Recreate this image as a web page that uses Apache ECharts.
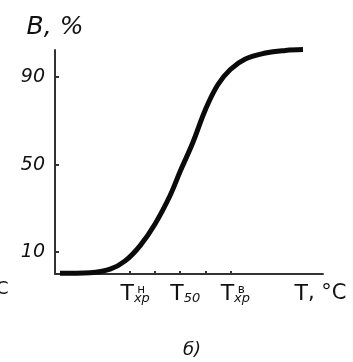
<!DOCTYPE html>
<html>
<head>
<meta charset="utf-8">
<script src="https://cdn.jsdelivr.net/npm/echarts@6/dist/echarts.min.js"></script>
<style>html,body{margin:0;padding:0;background:#fff}#c{width:353px;height:362px}</style>
</head>
<body>
<div id="c"></div>
<script>
// Data (temperature in arbitrary units, fibrous fraction B in %)
var temperature = [2, 14, 22, 28, 34, 40, 46, 50, 55, 60, 65, 70, 76, 84, 92, 99];
var fraction    = [0.3, 0.6, 2.2, 6, 13, 23, 36, 47, 60, 75, 86.5, 93.5, 98.3, 101, 102.2, 102.6];
var yTicks = [10, 50, 90];
var xTicks = [30, 40, 50, 60, 70];
var xLabelValues = [30, 50, 70, 104];
var xLabelTexts = ['{t|T}{s|хр}', '{t|T}{s|50}', '{t|T}{s|хр}', '{t|T}{c|, °C}'];
var xSupValues = [30, 70];
var xSupTexts = ['н', 'в'];

var FONT = 'DejaVu Sans';
var chart = echarts.init(document.getElementById('c'), null, {renderer: 'canvas'});
var lbl = {};
xLabelValues.forEach(function (v, i) { lbl[v] = xLabelTexts[i]; });
var sup = {};
xSupValues.forEach(function (v, i) { sup[v] = xSupTexts[i]; });

chart.setOption({
  backgroundColor: '#fff',
  animation: false,
  grid: {left: 55, right: 30, top: 50, bottom: 88, containLabel: false},
  xAxis: [{
    type: 'value', min: 0, max: 107,
    splitLine: {show: false},
    axisLine: {lineStyle: {color: '#333', width: 2}},
    axisTick: {show: true, inside: true, length: 3, customValues: xTicks, lineStyle: {color: '#333', width: 2}},
    axisLabel: {
      customValues: xLabelValues, margin: 9, padding: [0, 0, 0, 10],
      formatter: function (v) { return lbl[v] || ''; },
      rich: {
        t: {fontSize: 22, fontFamily: FONT, color: '#111', verticalAlign: 'top'},
        s: {fontSize: 13, fontFamily: FONT, fontStyle: 'italic', color: '#111', verticalAlign: 'bottom', padding: [8, 0, 0, 0]},
        c: {fontSize: 21, fontFamily: FONT, color: '#111', verticalAlign: 'top'}
      }
    }
  }, {
    type: 'value', min: 0, max: 107, position: 'bottom',
    splitLine: {show: false}, axisLine: {show: false}, axisTick: {show: false},
    axisLabel: {
      customValues: xSupValues, margin: 10, padding: [0, 0, 0, 22],
      formatter: function (v) { return sup[v] || ''; },
      fontSize: 12, fontFamily: FONT, color: '#111'
    }
  }],
  yAxis: {
    type: 'value', min: 0, max: 102.4,
    name: 'В, %', nameLocation: 'end', nameGap: 10,
    nameTextStyle: {fontSize: 25, fontFamily: FONT, fontStyle: 'italic', color: '#111'},
    splitLine: {show: false},
    axisLine: {show: true, lineStyle: {color: '#333', width: 2}},
    axisTick: {show: true, inside: true, length: 4, customValues: yTicks, lineStyle: {color: '#333', width: 2}},
    axisLabel: {customValues: yTicks, margin: 10, fontSize: 19, fontFamily: FONT, fontStyle: 'italic', color: '#111'}
  },
  series: [{
    type: 'line', xAxisIndex: 0,
    data: temperature.map(function (t, i) { return [t, fraction[i]]; }),
    smooth: 0.4, showSymbol: false, clip: false,
    lineStyle: {color: '#0a0a0a', width: 5}
  }],
  graphic: [
    {type: 'text', left: -4, top: 280, style: {text: 'C', fontSize: 18, fontFamily: FONT, fill: '#111'}},
    {type: 'text', left: 183, top: 341, style: {text: 'б)', fontSize: 18, fontFamily: FONT, fontStyle: 'italic', fill: '#111'}}
  ]
});
</script>
</body>
</html>
